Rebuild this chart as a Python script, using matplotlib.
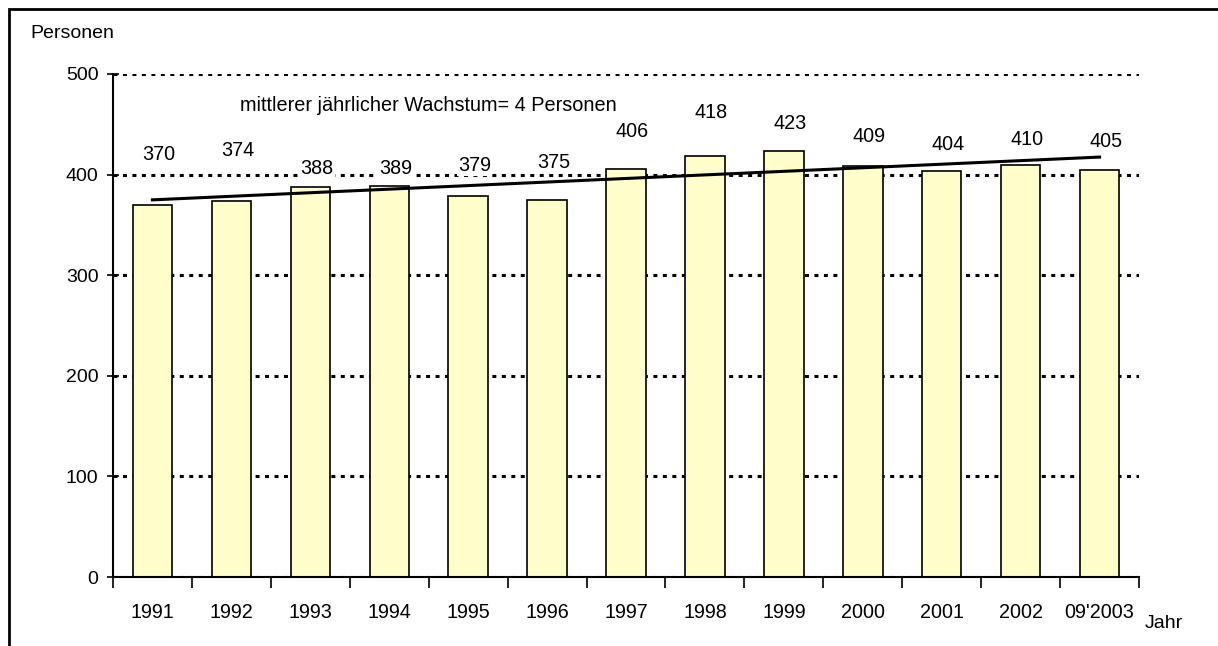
import numpy as np
import matplotlib.pyplot as plt
from matplotlib.patches import Rectangle

plt.rcParams['font.family'] = ['Liberation Sans', 'DejaVu Sans']

years = ["1991", "1992", "1993", "1994", "1995", "1996", "1997",
         "1998", "1999", "2000", "2001", "2002", "09'2003"]
persons = [370, 374, 388, 389, 379, 375, 406, 418, 423, 409, 404, 410, 405]

# where Excel dropped the value labels (in data units)
label_y = [419.5, 423.5, 406.5, 406.5, 409.5, 412.5, 442.5,
           462, 451, 437.5, 429.5, 434.5, 432.5]

fig = plt.figure(figsize=(12.18, 6.46), dpi=100)
ax = fig.add_axes([113 / 1218, 69 / 646, 1026 / 1218, 503 / 646])

x = np.arange(len(years))
ax.bar(x, persons, width=0.5, color="#FFFFCC", edgecolor="black",
       linewidth=1.2, zorder=2)

# linear trend line
slope, icpt = np.polyfit(x, persons, 1)
ax.plot([x[0] - 0.02, x[-1] + 0.02],
        [icpt + slope * (x[0] - 0.02), icpt + slope * (x[-1] + 0.02)],
        color="black", lw=2.2, zorder=3, solid_capstyle="butt")

for xi, v, ly in zip(x, persons, label_y):
    ax.text(xi + 0.08, ly, str(v), ha="center", va="center", fontsize=14.2,
            bbox=dict(facecolor="white", edgecolor="none", pad=1.0), zorder=4)

ax.text(1.11, 469, "mittlerer jährlicher Wachstum= 4 Personen",
        ha="left", va="center", fontsize=14.3, zorder=4)

ax.set_xlim(-0.5, len(years) - 0.5)
ax.set_ylim(0, 500)
ax.set_yticks(range(0, 501, 100))
ax.yaxis.grid(True, color="black", linestyle=(0, (1.3, 1.8)), lw=2.2, zorder=1)
ax.set_axisbelow(True)
ax.tick_params(axis="y", direction="inout", length=9, width=1.2,
               labelsize=14, pad=6)

ax.set_xticks(np.arange(-0.5, len(years)), labels=[])
ax.set_xticks(x, labels=years, minor=True)
ax.tick_params(axis="x", which="major", direction="out", length=8, width=1.2)
ax.tick_params(axis="x", which="minor", length=0, labelsize=14.2, pad=19)

for s in ["top", "right"]:
    ax.spines[s].set_visible(False)
for s in ["left", "bottom"]:
    ax.spines[s].set_linewidth(1.5)

fig.text(30 / 1218, 1 - 33 / 646, "Personen", ha="left", va="center",
         fontsize=14)
fig.text(1145 / 1218, 1 - 624 / 646, "Jahr", ha="left", va="center",
         fontsize=14)

fig.patches.append(Rectangle((9.3 / 1218, -0.2), 1.2, 1.2 - 9.3 / 646,
                             transform=fig.transFigure, fill=False,
                             edgecolor="black", lw=2.0))

fig.savefig("out.png", dpi=100)
